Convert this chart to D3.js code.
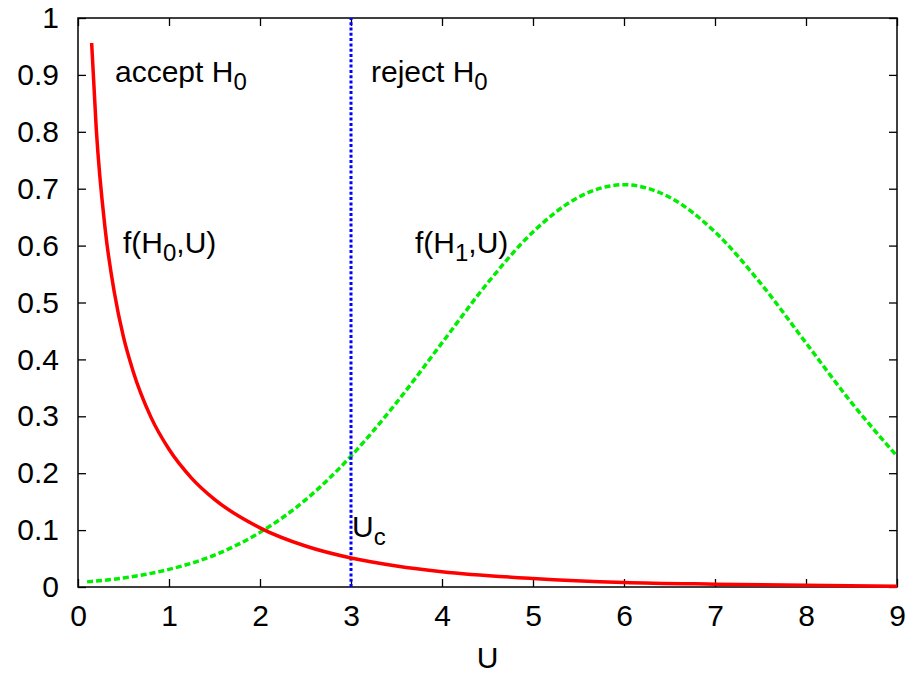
<!DOCTYPE html>
<html>
<head>
<meta charset="utf-8">
<script src="https://cdn.jsdelivr.net/npm/d3@7"></script>
<style>
  body { margin: 0; background: #fff; }
  text { font-family: "Liberation Sans", Arial, Helvetica, sans-serif; }
</style>
</head>
<body>
<div id="chart"></div>
<script>
// values
var h0U = [0.15, 0.2, 0.3, 0.4, 0.5, 0.6, 0.8, 1.0, 1.25, 1.5, 2.0, 2.5, 3.0, 3.5, 4.0, 5.0, 6.0, 7.0, 8.0, 9.0];
var h0F = [0.956, 0.807, 0.627, 0.517, 0.439, 0.382, 0.299, 0.242, 0.191, 0.154, 0.104, 0.072, 0.051, 0.037, 0.027, 0.015, 0.008, 0.005, 0.003, 0.0015];

var h1U = [0.1, 0.5, 1.0, 1.5, 2.0, 2.5, 3.0, 3.5, 4.0, 4.5, 5.0, 5.5, 6.0, 6.5, 7.0, 7.5, 8.0, 8.5, 9.0];
var h1F = [0.009, 0.016, 0.031, 0.056, 0.096, 0.153, 0.230, 0.324, 0.429, 0.534, 0.624, 0.685, 0.707, 0.685, 0.624, 0.534, 0.429, 0.324, 0.230];

var uCut = 3;
var xTicks = [0, 1, 2, 3, 4, 5, 6, 7, 8, 9];
var yTicks = [0, 0.1, 0.2, 0.3, 0.4, 0.5, 0.6, 0.7, 0.8, 0.9, 1];

var W = 910, H = 675;
var plotL = 78, plotR = 897, plotT = 18, plotB = 587;
var fs = 30;

var svg = d3.select("#chart").append("svg")
  .attr("width", W)
  .attr("height", H);

var x = d3.scaleLinear().domain([0, 9]).range([plotL, plotR]);
var y = d3.scaleLinear().domain([0, 1]).range([plotB, plotT]);

function styleAxis(g) {
  g.select(".domain").remove();
  g.selectAll(".tick line").attr("stroke", "#000").attr("stroke-width", 1.3);
  g.selectAll(".tick text").attr("font-size", fs).attr("fill", "#000")
    .style("font-family", "'Liberation Sans', Arial, sans-serif");
}

svg.append("g").attr("transform", "translate(0," + plotB + ")")
  .call(d3.axisBottom(x).tickValues(xTicks).tickSize(-8).tickPadding(18).tickFormat(d3.format("d")))
  .call(styleAxis);
svg.append("g").attr("transform", "translate(0," + plotT + ")")
  .call(d3.axisTop(x).tickValues(xTicks).tickSize(-8).tickFormat(""))
  .call(styleAxis);
svg.append("g").attr("transform", "translate(" + plotL + ",0)")
  .call(d3.axisLeft(y).tickValues(yTicks).tickSize(-8).tickPadding(19).tickFormat(function(d) { return String(+d.toFixed(1)); }))
  .call(styleAxis);
svg.append("g").attr("transform", "translate(" + plotR + ",0)")
  .call(d3.axisRight(y).tickValues(yTicks).tickSize(-8).tickFormat(""))
  .call(styleAxis);

// frame
svg.append("rect")
  .attr("x", plotL).attr("y", plotT)
  .attr("width", plotR - plotL).attr("height", plotB - plotT)
  .attr("fill", "none").attr("stroke", "#000").attr("stroke-width", 1.5);

var line = d3.line()
  .x(function(d) { return x(d[0]); })
  .y(function(d) { return y(d[1]); })
  .curve(d3.curveMonotoneX);

// f(H1,U) dashed green
svg.append("path")
  .datum(d3.zip(h1U, h1F))
  .attr("d", line)
  .attr("fill", "none")
  .attr("stroke", "#00ee00")
  .attr("stroke-width", 3.5)
  .attr("stroke-dasharray", "6,3");

// critical value, blue dotted
svg.append("line")
  .attr("x1", x(uCut)).attr("x2", x(uCut))
  .attr("y1", y(0)).attr("y2", y(1))
  .attr("stroke", "#0000ff")
  .attr("stroke-width", 3)
  .attr("stroke-dasharray", "3,2.3");

// f(H0,U) solid red
svg.append("path")
  .datum(d3.zip(h0U, h0F))
  .attr("d", line)
  .attr("fill", "none")
  .attr("stroke", "#ff0000")
  .attr("stroke-width", 3.5);

// labels with subscripts
function label(px, py, parts) {
  var t = svg.append("text")
    .attr("x", px).attr("y", py)
    .attr("font-size", fs)
    .attr("fill", "#000");
  parts.forEach(function(p) {
    if (p.sub) {
      t.append("tspan").attr("font-size", fs * 0.8).attr("dy", 8).text(p.t);
    } else {
      t.append("tspan").attr("dy", p.back ? -8 : 0).text(p.t);
    }
  });
}

label(115, 82, [{t: "accept H"}, {t: "0", sub: true}]);
label(371, 82, [{t: "reject H"}, {t: "0", sub: true}]);
label(123, 253, [{t: "f(H"}, {t: "0", sub: true}, {t: ",U)", back: true}]);
label(415, 253, [{t: "f(H"}, {t: "1", sub: true}, {t: ",U)", back: true}]);
label(352, 537, [{t: "U"}, {t: "c", sub: true}]);

svg.append("text")
  .attr("x", (plotL + plotR) / 2).attr("y", 668)
  .attr("text-anchor", "middle")
  .attr("font-size", fs)
  .attr("fill", "#000")
  .text("U");
</script>
</body>
</html>
